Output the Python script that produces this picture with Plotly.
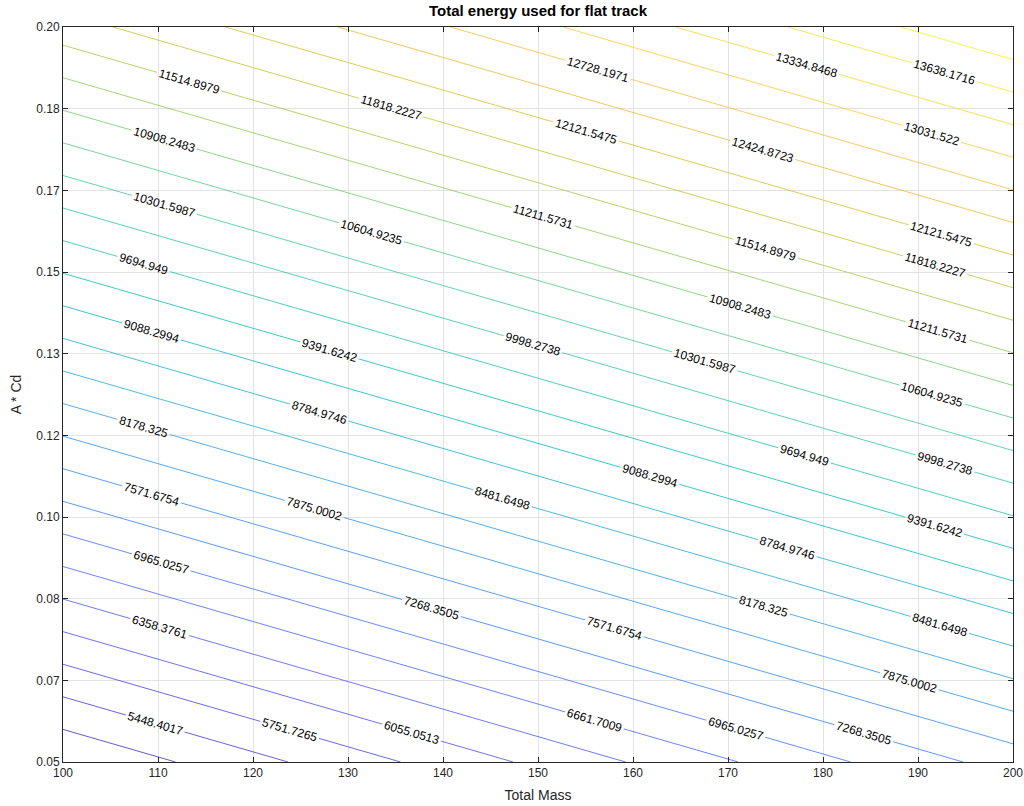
import plotly.graph_objects as go

# ---- data ----
mass = [100, 150, 200]                 # Total Mass grid
acd = [0.05, 0.125, 0.20]              # A * Cd grid
energy = [                              # energy at grid points (rows = acd)
    [4841.752058, 6122.282, 7402.712],
    [8262.814, 9543.287, 10823.76],
    [11683.862, 12964.34, 14244.8212],
]
level_start = 4841.752058
level_step = 303.324811
level_end = 14244.8212

x_ticks = [100, 110, 120, 130, 140, 150, 160, 170, 180, 190, 200]
y_tickvals = [0.05, 0.0666667, 0.0833333, 0.10, 0.1166667, 0.1333333,
              0.15, 0.1666667, 0.1833333, 0.20]
y_ticktext = ["0.05", "0.07", "0.08", "0.10", "0.12", "0.13",
              "0.15", "0.17", "0.18", "0.20"]

parula = [
    [0.2422, 0.1504, 0.6603], [0.2504, 0.1650, 0.7076], [0.2578, 0.1818, 0.7511],
    [0.2647, 0.1978, 0.7952], [0.2706, 0.2147, 0.8364], [0.2751, 0.2342, 0.8710],
    [0.2783, 0.2559, 0.8991], [0.2803, 0.2782, 0.9221], [0.2813, 0.3006, 0.9414],
    [0.2810, 0.3228, 0.9579], [0.2795, 0.3447, 0.9717], [0.2760, 0.3667, 0.9829],
    [0.2699, 0.3892, 0.9906], [0.2602, 0.4123, 0.9952], [0.2440, 0.4358, 0.9988],
    [0.2206, 0.4603, 0.9973], [0.1963, 0.4847, 0.9892], [0.1834, 0.5074, 0.9798],
    [0.1786, 0.5289, 0.9682], [0.1764, 0.5499, 0.9520], [0.1687, 0.5703, 0.9359],
    [0.1540, 0.5902, 0.9218], [0.1460, 0.6091, 0.9079], [0.1380, 0.6276, 0.8973],
    [0.1248, 0.6459, 0.8883], [0.1113, 0.6635, 0.8763], [0.0952, 0.6798, 0.8598],
    [0.0689, 0.6948, 0.8394], [0.0297, 0.7082, 0.8163], [0.0036, 0.7203, 0.7917],
    [0.0067, 0.7312, 0.7660], [0.0433, 0.7411, 0.7394], [0.0964, 0.7500, 0.7120],
    [0.1408, 0.7584, 0.6842], [0.1717, 0.7670, 0.6554], [0.1938, 0.7758, 0.6251],
    [0.2161, 0.7843, 0.5923], [0.2470, 0.7918, 0.5567], [0.2906, 0.7973, 0.5188],
    [0.3406, 0.8008, 0.4789], [0.3909, 0.8029, 0.4354], [0.4456, 0.8024, 0.3909],
    [0.5044, 0.7993, 0.3480], [0.5616, 0.7942, 0.3045], [0.6174, 0.7876, 0.2612],
    [0.6720, 0.7793, 0.2227], [0.7242, 0.7698, 0.1910], [0.7738, 0.7598, 0.1646],
    [0.8203, 0.7498, 0.1535], [0.8634, 0.7406, 0.1596], [0.9035, 0.7330, 0.1774],
    [0.9393, 0.7288, 0.2100], [0.9728, 0.7298, 0.2394], [0.9956, 0.7434, 0.2371],
    [0.9970, 0.7659, 0.2199], [0.9952, 0.7893, 0.2028], [0.9892, 0.8136, 0.1885],
    [0.9786, 0.8386, 0.1766], [0.9676, 0.8639, 0.1643], [0.9610, 0.8890, 0.1537],
    [0.9597, 0.9135, 0.1423], [0.9628, 0.9373, 0.1265], [0.9691, 0.9606, 0.1064],
    [0.9769, 0.9839, 0.0805],
]
n = len(parula)
colorscale = [[i / (n - 1), "rgb(%d,%d,%d)" % tuple(int(round(c * 255)) for c in p)]
              for i, p in enumerate(parula)]

FONT = "Liberation Sans, Arial, Helvetica"

fig = go.Figure(go.Contour(
    x=mass, y=acd, z=energy,
    autocontour=False,
    contours=dict(start=level_start, end=level_end, size=level_step,
                  coloring="lines", showlabels=True,
                  labelformat=".4~f",
                  labelfont=dict(size=12, color="black", family=FONT)),
    colorscale=colorscale, zauto=False, zmin=level_start, zmax=level_end,
    showscale=False, line=dict(width=0.8), hoverinfo="skip",
))

axis_common = dict(
    showline=True, linecolor="#262626", linewidth=1, mirror="ticks",
    ticks="inside", ticklen=5, tickcolor="#262626",
    showgrid=True, gridcolor="#e3e3e3", gridwidth=1, zeroline=False,
    automargin=False,
    tickfont=dict(size=12, color="#262626", family=FONT),
)

fig.update_layout(
    width=1024, height=806,
    margin=dict(l=63, r=11, t=27, b=44),
    paper_bgcolor="white", plot_bgcolor="white",
    title=dict(text="<b>Total energy used for flat track</b>",
               x=0.5, xref="paper", xanchor="center",
               y=1 - 11 / 806, yref="container", yanchor="middle",
               font=dict(size=15, color="black", family=FONT)),
    xaxis=dict(range=[100, 200], tickvals=x_ticks,
               title=dict(text="Total Mass", standoff=10,
                          font=dict(size=14, color="#262626", family=FONT)),
               **axis_common),
    yaxis=dict(range=[0.05, 0.20], tickvals=y_tickvals, ticktext=y_ticktext,
               title=dict(text="A * Cd", standoff=11,
                          font=dict(size=14, color="#262626", family=FONT)),
               **axis_common),
)

fig.write_html("out.html", config={"displayModeBar": False},
               post_script="document.body.style.margin='0';document.body.style.overflow='hidden';")
